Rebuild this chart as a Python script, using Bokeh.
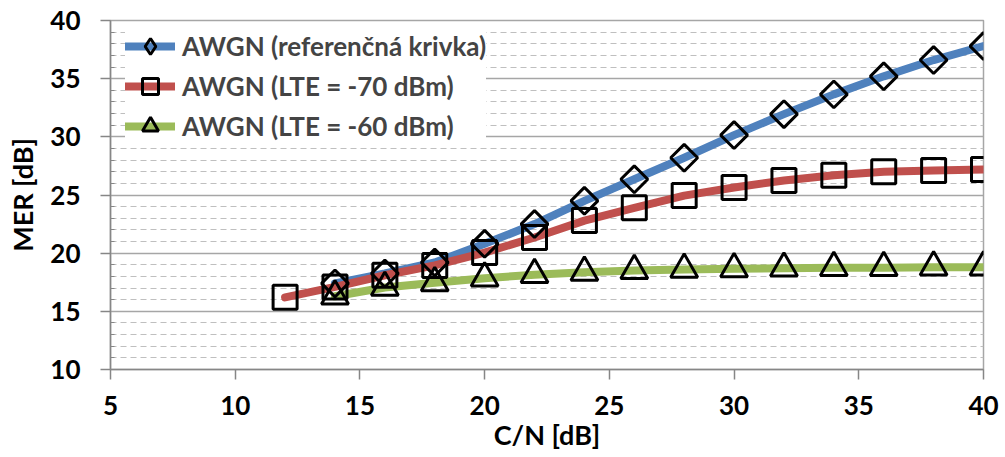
from bokeh.plotting import figure
from bokeh.models import Range1d, FixedTicker, Legend, LegendItem
from bokeh.embed import file_html
from bokeh.resources import INLINE
import math

# data
x_ref = [14, 16, 18, 20, 22, 24, 26, 28, 30, 32, 34, 36, 38, 40]
y_ref = [17.4, 18.25, 19.2, 20.8, 22.5, 24.5, 26.35, 28.2, 30.15, 31.95, 33.65, 35.2, 36.6, 37.8]
x_70 = [12, 14, 16, 18, 20, 22, 24, 26, 28, 30, 32, 34, 36, 38, 40]
y_70 = [16.2, 17.1, 18.1, 18.95, 20.05, 21.35, 22.8, 23.9, 24.95, 25.65, 26.25, 26.7, 27.0, 27.1, 27.2]
x_60 = [14, 16, 18, 20, 22, 24, 26, 28, 30, 32, 34, 36, 38, 40]
y_60 = [16.3, 17.05, 17.45, 17.85, 18.15, 18.35, 18.5, 18.6, 18.65, 18.7, 18.75, 18.75, 18.8, 18.8]

labels = ["AWGN (referenčná krivka)", "AWGN (LTE = -70 dBm)", "AWGN (LTE = -60 dBm)"]
colors = ["#4F81BD", "#C0504D", "#9BBB59"]
x_ticks = [5, 10, 15, 20, 25, 30, 35, 40]
y_ticks = [10, 15, 20, 25, 30, 35, 40]

FONT = "Lato"

p = figure(output_backend="svg", toolbar_location=None,
           x_range=Range1d(5, 40), y_range=Range1d(10, 40),
           frame_width=873, frame_height=349,
           min_border_left=110, min_border_top=20, min_border_right=17, min_border_bottom=82)
p.background_fill_color = "white"
p.border_fill_color = "white"
p.outline_line_color = "#A6A6A6"
p.outline_line_width = 1.5

p.xgrid.grid_line_color = None
p.ygrid.grid_line_color = "#A6A6A6"
p.ygrid.grid_line_width = 1.5
p.ygrid.minor_grid_line_color = "#BFBFBF"
p.ygrid.minor_grid_line_dash = "6 4"
p.ygrid.minor_grid_line_width = 1.2

p.xaxis.ticker = FixedTicker(ticks=x_ticks)
p.yaxis.ticker = FixedTicker(ticks=y_ticks, minor_ticks=[v for v in range(10, 41) if v % 5 != 0])

for ax in (p.xaxis[0], p.yaxis[0]):
    ax.axis_line_color = "#868686"
    ax.axis_line_width = 1.5
    ax.major_tick_line_color = "#868686"
    ax.major_tick_line_width = 1.5
    ax.major_tick_in = 0
    ax.major_tick_out = 10
    ax.major_label_text_font = FONT
    ax.major_label_text_font_style = "bold"
    ax.major_label_text_font_size = "26px"
    ax.major_label_text_color = "black"
    ax.axis_label_text_font = FONT
    ax.axis_label_text_font_style = "bold"
    ax.axis_label_text_font_size = "27px"
    ax.axis_label_text_color = "black"

p.xaxis.minor_tick_line_color = None
p.yaxis.minor_tick_line_color = "#868686"
p.yaxis.minor_tick_line_width = 1.2
p.yaxis.minor_tick_in = 4
p.yaxis.minor_tick_out = 0

p.xaxis.axis_label = "C/N [dB]"
p.yaxis.axis_label = "MER [dB]"
p.xaxis.major_label_standoff = 16
p.yaxis.major_label_standoff = 20
p.xaxis.axis_label_standoff = 0
p.yaxis.axis_label_standoff = 8

r1l = p.line(x_ref, y_ref, line_color=colors[0], line_width=8, line_cap="round", line_join="round")
r2l = p.line(x_70, y_70, line_color=colors[1], line_width=8, line_cap="round", line_join="round")
r3l = p.line(x_60, y_60, line_color=colors[2], line_width=8, line_cap="round", line_join="round")

r1m = p.scatter(x_ref, y_ref, marker="square", angle=math.pi / 4, size=19, fill_alpha=0,
                line_color="black", line_width=3)
r2m = p.scatter(x_70, y_70, marker="square", size=24, fill_alpha=0, line_color="black", line_width=3)
r3m = p.scatter(x_60, y_60, marker="triangle", size=27, fill_alpha=0, line_color="black", line_width=3)

# legend-only diamond (legend ignores marker angle); hidden in the plot via muted state
r1leg = p.scatter(x_ref, y_ref, marker="diamond", size=19, fill_alpha=0, line_color="black",
                  line_width=3, muted_alpha=0)
r1leg.muted = True

legend = Legend(items=[LegendItem(label=labels[0], renderers=[r1l, r1leg]),
                       LegendItem(label=labels[1], renderers=[r2l, r2m]),
                       LegendItem(label=labels[2], renderers=[r3l, r3m])],
                location=(15, 349 - 126))
legend.label_text_font = FONT
legend.label_text_font_style = "bold"
legend.label_text_font_size = "26px"
legend.glyph_width = 50
legend.glyph_height = 40
legend.spacing = 0
legend.padding = 3
legend.margin = 0
legend.label_standoff = 7
legend.label_height = 40
legend.border_line_color = None
legend.background_fill_color = "white"
legend.background_fill_alpha = 1
p.add_layout(legend)

open("out.html", "w").write(file_html(p, INLINE))
